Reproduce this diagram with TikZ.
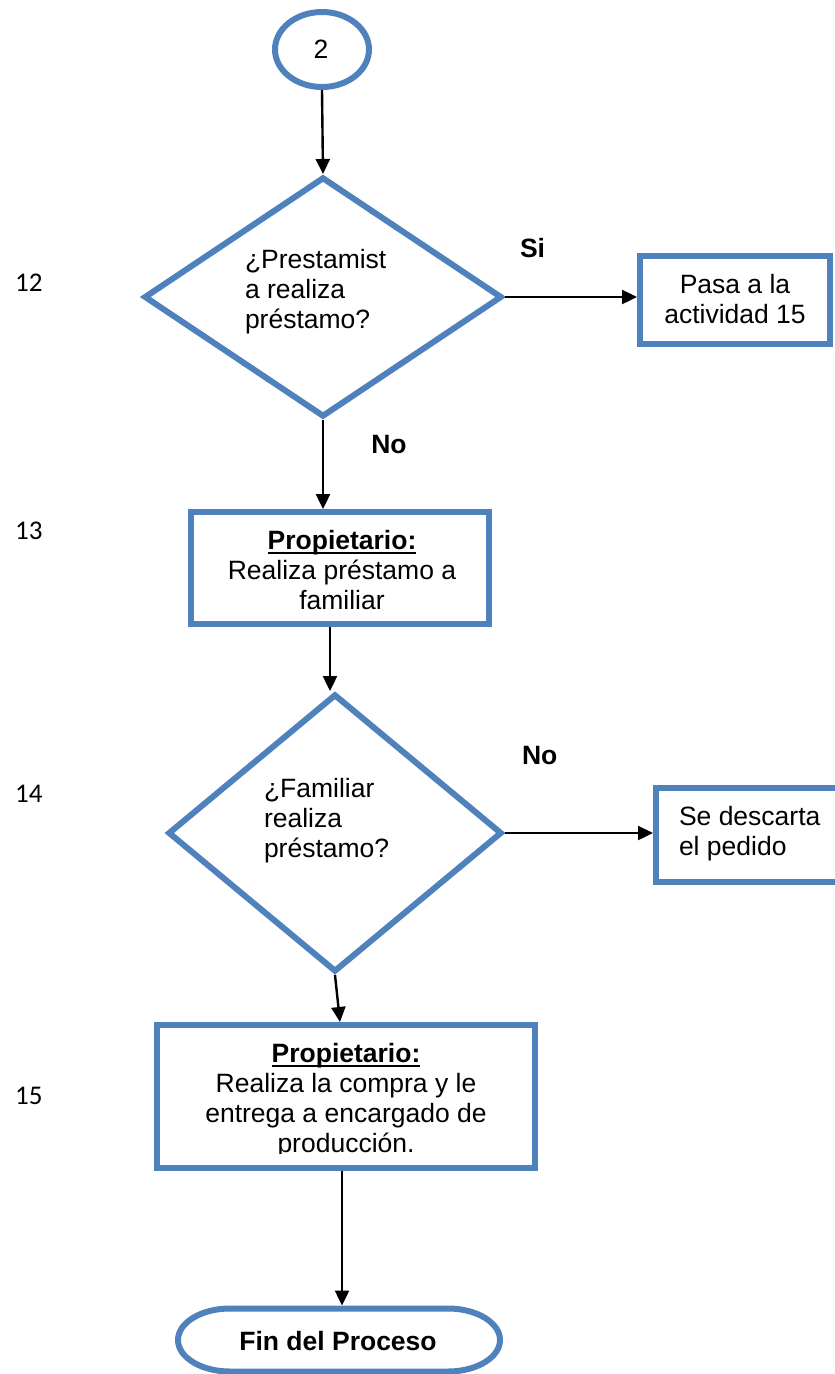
\documentclass[tikz,border=0pt]{standalone}
\usepackage{fontspec}
\setmainfont{Liberation Sans}
\newfontfamily\numfont{Carlito}
\usetikzlibrary{arrows.meta,shapes.geometric}
\definecolor{flowblue}{RGB}{79,129,189}
% stacked lines, first baseline is the node's baseline
\newcommand\blkc[1]{\begin{tabular}[t]{@{}c@{}}#1\end{tabular}}
\newcommand\blkl[1]{\begin{tabular}[t]{@{}l@{}}#1\end{tabular}}
% underline that crosses descenders, as in the heading lines
\newcommand\ulword[1]{\setbox0=\hbox{#1}\rlap{\rule[-5pt]{\wd0}{2pt}}\box0}
\begin{document}
\begin{tikzpicture}[x=1pt,y=-1pt,
  font=\fontsize{26.5}{30}\selectfont,
  blueline/.style={draw=flowblue, line width=6pt, inner sep=0pt},
  conn/.style={draw=black, line width=2.4pt, -{Triangle[length=15pt,width=14pt]}},
  txt/.style={inner sep=0pt, outer sep=0pt},
  stepnum/.style={inner sep=0pt, anchor=base west, font=\numfont\fontsize{27}{30}\selectfont}]
\useasboundingbox (0,0) rectangle (835,1374);
\clip (0,0) rectangle (835,1374);

% connector circle
\node[blueline, ellipse, minimum width=94pt, minimum height=75pt] (c2) at (322,49.5) {};
\node[txt, anchor=base] (c2t) at (321,58) {2};

% step 12
\node[blueline, diamond, minimum width=358pt, minimum height=240pt] (d1) at (323,297) {};
\node[txt, anchor=base west] (d1t) at (245,268) {\blkl{¿Prestamist\\a realiza\\préstamo?}};
\node[blueline, rectangle, minimum width=190pt, minimum height=88pt] (p15) at (735,300) {};
\node[txt, anchor=base] (p15t) at (735,293) {\blkc{Pasa a la\\actividad 15}};
\node[txt, anchor=base west] (si) at (520,257) {\textbf{Si}};
\node[txt, anchor=base] (no1) at (389,453) {\textbf{No}};

% step 13
\node[blueline, rectangle, minimum width=298pt, minimum height=112pt] (b13) at (340,568) {};
\node[txt, anchor=base] (b13t) at (342,549) {\blkc{\ulword{\textbf{Propietario:}}\\Realiza préstamo a\\familiar}};

% step 14
\node[blueline, diamond, minimum width=334pt, minimum height=278pt] (d14) at (335,833) {};
\node[txt, anchor=base west] (d14t) at (264,797) {\blkl{¿Familiar\\realiza\\préstamo?}};
\node[blueline, rectangle, minimum width=182pt, minimum height=94pt] (sd) at (747,835) {};
\node[txt, anchor=base west] (sdt) at (679,825) {\blkl{Se descarta\\el pedido}};
\node[txt, anchor=base west] (no2) at (522,764) {\textbf{No}};

% step 15
\node[blueline, rectangle, minimum width=378pt, minimum height=143pt] (b15) at (346,1096.5) {};
\begin{scope}
  \clip (150,1030) rectangle (540,1153);
  \node[txt, anchor=base] (b15t) at (346,1062) {\blkc{\ulword{\textbf{Propietario:}}\\Realiza la compra y le\\entrega a encargado de\\producción.}};
\end{scope}

% terminal
\node[inner sep=0pt, outer sep=3pt, minimum width=322pt, minimum height=63pt] (fin) at (339,1340) {};
\draw[flowblue, line width=6pt] (fin.center) ++(-109,-31.5) -- ++(218,0)
  arc[start angle=-90, end angle=90, x radius=52, y radius=31.5] -- ++(-218,0)
  arc[start angle=90, end angle=270, x radius=52, y radius=31.5] -- cycle;
\node[txt, anchor=base] (fint) at (338,1350) {\textbf{Fin del Proceso}};

% step numbers
\node[stepnum] (n12) at (15,291) {12};
\node[stepnum] (n13) at (15,539) {13};
\node[stepnum] (n14) at (15,802) {14};
\node[stepnum] (n15) at (15,1104) {15};

% connectors
\draw[conn] (c2.south) -- (d1.north);
\draw[conn] (d1.east) -- (p15.west |- d1.east);
\draw[conn] (d1.south) -- (b13.north -| d1.south);
\draw[conn] ([xshift=-5pt]d14.north |- b13.south) -- ([xshift=-5pt]d14.north);
\draw[conn] (d14.east) -- (sd.west |- d14.east);
\draw[conn] (d14.south) -- ([xshift=5pt]d14.south |- b15.north);
\draw[conn] ([xshift=3pt]fin.north |- b15.south) -- ([xshift=3pt]fin.north);
\end{tikzpicture}
\end{document}
